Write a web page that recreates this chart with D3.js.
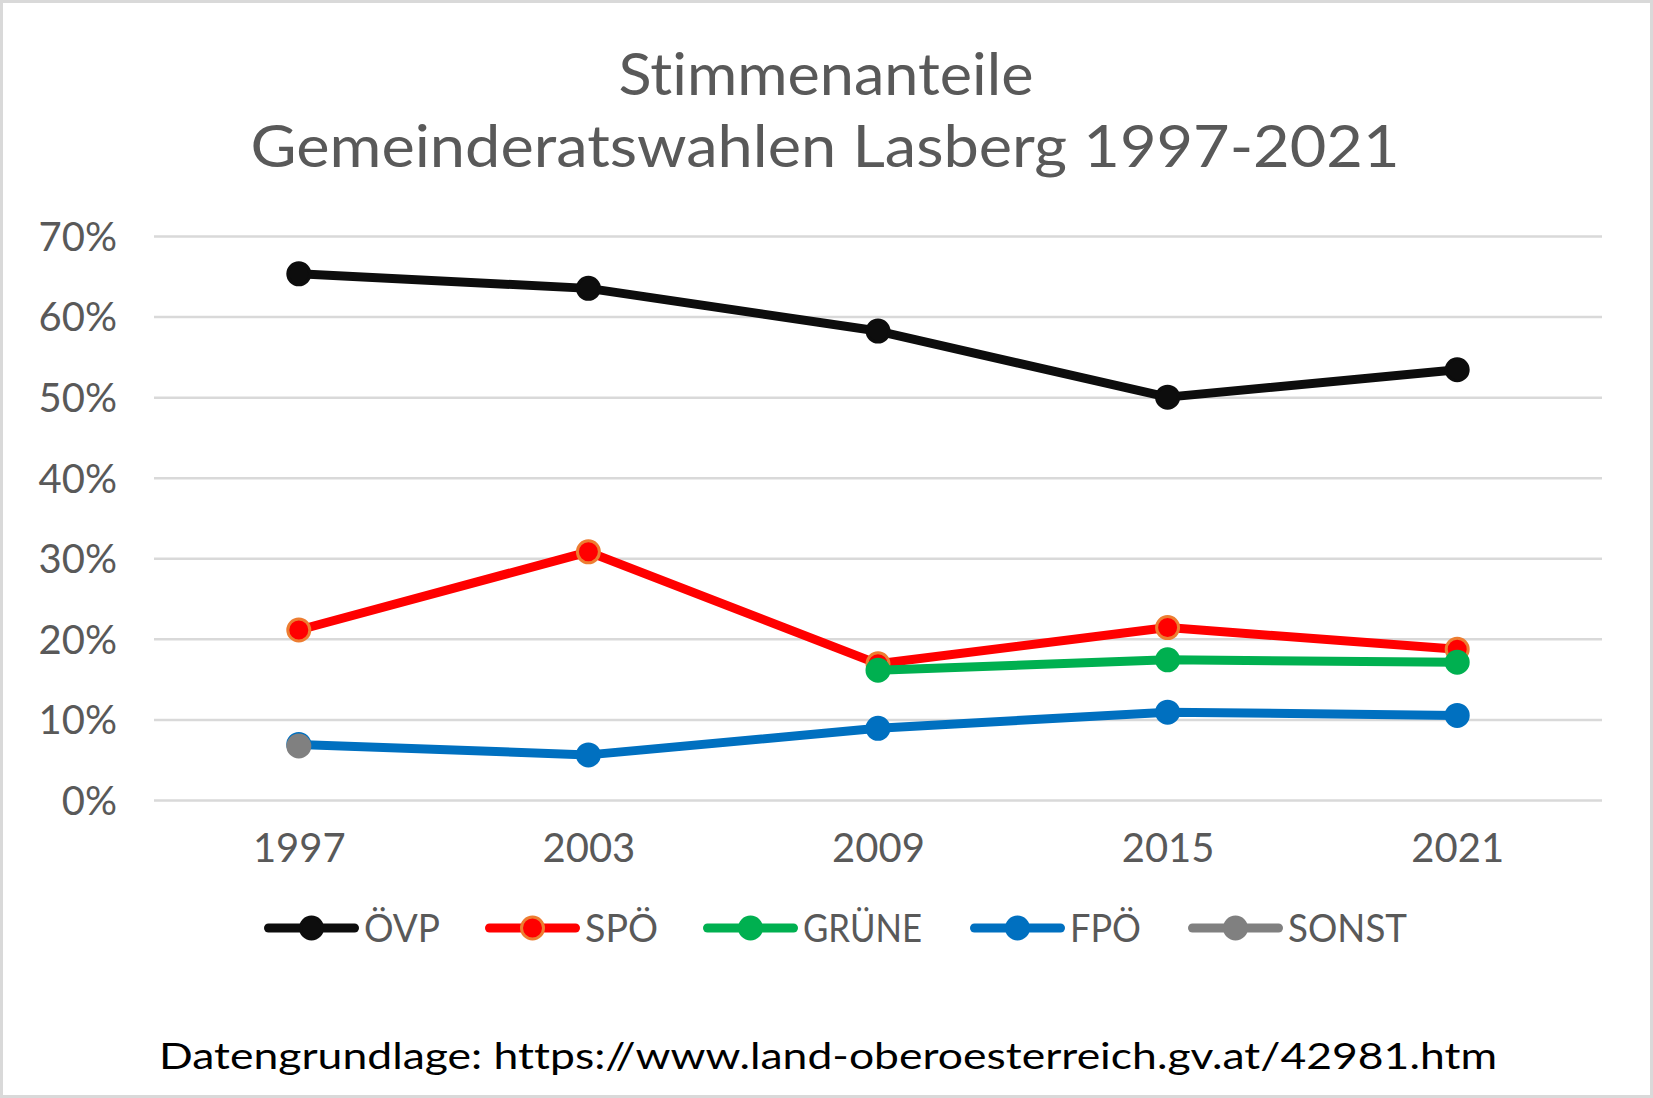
<!DOCTYPE html>
<html>
<head>
<meta charset="utf-8">
<script src="https://cdn.jsdelivr.net/npm/d3@7"></script>
<style>
  body { margin: 0; background: #fff; }
  text { font-family: Lato, "Noto Sans", sans-serif; font-variant-ligatures: none; }
</style>
</head>
<body>
<script>
// data
var years = ["1997", "2003", "2009", "2015", "2021"];
var oevp  = [65.3, 63.5, 58.2, 50.0, 53.4];
var spoe  = [21.1, 30.8, 16.9, 21.4, 18.7];
var gruene = [null, null, 16.1, 17.4, 17.1];
var fpoe  = [6.9, 5.6, 8.9, 10.9, 10.5];
var sonst = [6.7, null, null, null, null];
var yTicks = [0, 10, 20, 30, 40, 50, 60, 70];

var series = [
  {name: "ÖVP",   values: oevp,   color: "#0d0d0d", edge: "#0d0d0d"},
  {name: "SPÖ",   values: spoe,   color: "#ff0000", edge: "#ed7d31"},
  {name: "GRÜNE", values: gruene, color: "#00b050", edge: "#00b050"},
  {name: "FPÖ",   values: fpoe,   color: "#0070c0", edge: "#0070c0"},
  {name: "SONST", values: sonst,  color: "#808080", edge: "#808080"}
];

var W = 1653, H = 1098;
var plot = {left: 154, right: 1602, top: 236, bottom: 800};

var svg = d3.select("body").append("svg")
    .attr("width", W)
    .attr("height", H);

svg.append("rect")
    .attr("x", 1.5).attr("y", 1.5)
    .attr("width", W - 3).attr("height", H - 3)
    .attr("fill", "#fff")
    .attr("stroke", "#d9d9d9")
    .attr("stroke-width", 3);

var x = d3.scalePoint()
    .domain(years)
    .range([plot.left, plot.right])
    .padding(0.5);

var y = d3.scaleLinear()
    .domain([0, 70])
    .range([plot.bottom, plot.top]);

// title
var title = svg.append("text")
    .attr("text-anchor", "middle")
    .attr("fill", "#595959")
    .attr("font-size", 59);
title.append("tspan").attr("x", 826).attr("y", 95)
    .attr("textLength", 415).attr("lengthAdjust", "spacingAndGlyphs")
    .text("Stimmenanteile");
title.append("tspan").attr("x", 825).attr("y", 167)
    .attr("textLength", 1149).attr("lengthAdjust", "spacingAndGlyphs")
    .text("Gemeinderatswahlen Lasberg 1997-2021");

// y axis with gridlines
var yAxis = svg.append("g")
    .attr("transform", "translate(" + plot.left + ",0)")
    .call(d3.axisLeft(y)
      .tickValues(yTicks)
      .tickSize(-(plot.right - plot.left))
      .tickPadding(37)
      .tickFormat(function(d) { return d + "%"; }));
yAxis.select(".domain").remove();
yAxis.selectAll(".tick line").attr("stroke", "#d9d9d9").attr("stroke-width", 2.5);
yAxis.selectAll(".tick text")
    .attr("fill", "#595959")
    .attr("font-size", 40)
    .attr("dy", "0.36em")
    .attr("font-family", "Lato, sans-serif");

// x axis
var xAxis = svg.append("g")
    .attr("transform", "translate(0," + plot.bottom + ")")
    .call(d3.axisBottom(x).tickSize(0).tickPadding(34));
xAxis.select(".domain").remove();
xAxis.selectAll(".tick text")
    .attr("fill", "#595959")
    .attr("font-size", 40)
    .attr("font-family", "Lato, sans-serif")
    .attr("dy", "0.71em");

// series, each drawn with its markers before the next one
var line = d3.line()
    .defined(function(d) { return d != null; })
    .x(function(d, i) { return x(years[i]); })
    .y(function(d) { return y(d); });

series.forEach(function(s) {
  var g = svg.append("g");
  g.append("path")
      .attr("d", line(s.values))
      .attr("fill", "none")
      .attr("stroke", s.color)
      .attr("stroke-width", 9)
      .attr("stroke-linejoin", "round");
  g.selectAll("circle")
      .data(s.values.map(function(v, i) { return {v: v, i: i}; })
        .filter(function(d) { return d.v != null; }))
    .enter().append("circle")
      .attr("cx", function(d) { return x(years[d.i]); })
      .attr("cy", function(d) { return y(d.v); })
      .attr("r", 11)
      .attr("fill", s.color)
      .attr("stroke", s.edge)
      .attr("stroke-width", 3);
});

// legend
var legendX = [264, 485, 703, 970, 1188];
var legendTextW = [76, 73, 119, 71, 119];
var legendLineW = 95;
var legend = svg.append("g").attr("transform", "translate(0,928)");
series.forEach(function(s, i) {
  var lg = legend.append("g").attr("transform", "translate(" + legendX[i] + ",0)");
  lg.append("line")
      .attr("x1", 4.5).attr("x2", legendLineW - 4.5)
      .attr("stroke", s.color)
      .attr("stroke-width", 9)
      .attr("stroke-linecap", "round");
  lg.append("circle")
      .attr("cx", legendLineW / 2)
      .attr("r", 11)
      .attr("fill", s.color)
      .attr("stroke", s.edge)
      .attr("stroke-width", 3);
  lg.append("text")
      .attr("x", legendLineW + 5)
      .attr("y", 14)
      .attr("fill", "#595959")
      .attr("font-size", 39)
      .attr("textLength", legendTextW[i])
      .attr("lengthAdjust", "spacingAndGlyphs")
      .text(s.name);
});

// source line
svg.append("text")
    .attr("x", 159).attr("y", 1069)
    .attr("fill", "#000")
    .attr("font-size", 37)
    .attr("textLength", 1338)
    .attr("lengthAdjust", "spacingAndGlyphs")
    .text("Datengrundlage: https://www.land-oberoesterreich.gv.at/42981.htm");
</script>
</body>
</html>
